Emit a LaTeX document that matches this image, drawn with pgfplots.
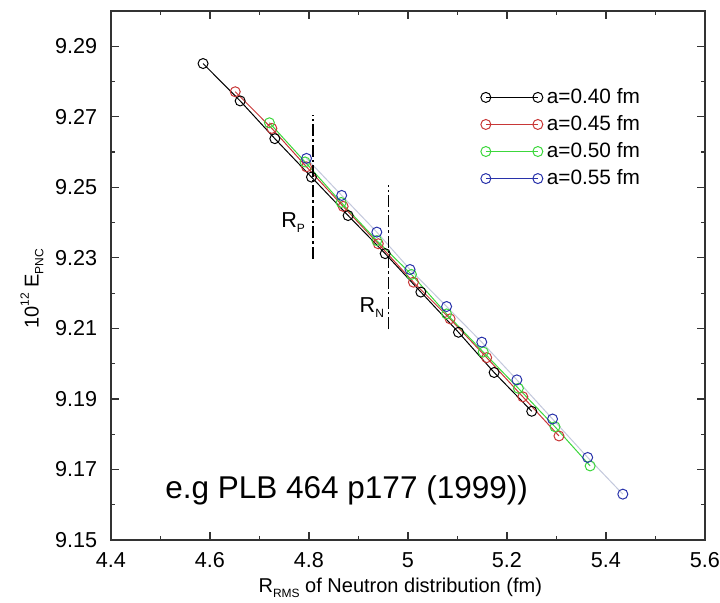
\documentclass[border=0pt]{standalone}
\usepackage{fontspec}
\setmainfont{Liberation Sans}
\usepackage{pgfplots}
\pgfplotsset{compat=1.18}
\definecolor{cred}{RGB}{200,55,55}
\definecolor{cgreen}{RGB}{60,215,60}
\definecolor{cblue}{RGB}{40,50,170}
\definecolor{cblueline}{RGB}{195,200,220}
\newcommand{\lf}{\fontsize{10.8}{13}\selectfont}
\newcommand{\sub}[1]{\raisebox{-0.45ex}{\fontsize{6}{6}\selectfont #1}}
\newcommand{\sups}[1]{\raisebox{0.9ex}{\fontsize{6}{6}\selectfont #1}}
\begin{document}
\begin{tikzpicture}
\path[use as bounding box] (-55.5pt,-31.5pt) rectangle (304.5pt,270pt);
\begin{axis}[
 scale only axis, width=297pt, height=264.5pt,
 xmin=4.4, xmax=5.6, ymin=9.15, ymax=9.30,
 xtick={4.4,4.6,4.8,5.0,5.2,5.4,5.6},
 minor xtick={4.5,4.7,4.9,5.1,5.3,5.5},
 ytick={9.15,9.17,9.19,9.21,9.23,9.25,9.27,9.29},
 minor ytick={9.16,9.18,9.20,9.22,9.24,9.26,9.28},
 yticklabel style={/pgf/number format/fixed, /pgf/number format/fixed zerofill, /pgf/number format/precision=2, xshift=-3.4pt},
 xticklabel style={/pgf/number format/fixed, /pgf/number format/precision=1, yshift=-2.9pt},
 /pgf/number format/assume math mode=true,
 tick label style={font=\lf},
 major tick length=4pt, minor tick length=2.2pt,
 tick style={line width=0.6pt, color=black!80},
 axis line style={line width=0.6pt, black!80},
 xlabel={R\sub{RMS} of Neutron distribution (fm)},
 ylabel={10\sups{12} E\sub{PNC}},
 label style={font=\lf},
 every axis x label/.style={at={(axis description cs:0.487,-0.091)}, anchor=center},
 every axis y label/.style={at={(axis description cs:-0.133,0.475)}, anchor=center, rotate=90},
 legend style={draw=none, fill=none, at={(axis description cs:0.622,0.862)}, anchor=north west, font=\fontsize{10.4}{13}\selectfont, inner sep=0pt, row sep=0.5pt},
 legend cell align=left,
 legend image code/.code={\draw[#1] plot coordinates {(0pt,0pt) (26pt,0pt)};},
 every axis plot/.append style={line width=0.5pt, mark size=2.5pt},
]
\addplot[black, mark=o] coordinates {
(4.586,9.2851) (4.661,9.2745) (4.731,9.2638) (4.805,9.2529) (4.879,9.2420)
(4.954,9.2312) (5.026,9.2203) (5.102,9.2089) (5.174,9.1975) (5.250,9.1865)};
\addlegendentry{a=0.40 fm}
\addplot[cred, mark=o] coordinates {
(4.651,9.2771) (4.725,9.2667) (4.795,9.2558) (4.869,9.2446) (4.940,9.2340)
(5.011,9.2231) (5.085,9.2127) (5.159,9.2017) (5.232,9.1906) (5.305,9.1795)};
\addlegendentry{a=0.45 fm}
\addplot[cgreen, mark=o] coordinates {
(4.720,9.2683) (4.792,9.2572) (4.865,9.2457) (4.937,9.2349) (5.007,9.2253)
(5.078,9.2141) (5.152,9.2033) (5.223,9.1930) (5.297,9.1821) (5.368,9.1710)};
\addlegendentry{a=0.50 fm}
\addplot[cblueline, mark=o, mark options={cblue}, forget plot] coordinates {
(4.795,9.2582) (4.866,9.2477) (4.937,9.2373) (5.004,9.2267) (5.078,9.2162)
(5.149,9.2061) (5.220,9.1954) (5.292,9.1843) (5.363,9.1734) (5.434,9.1630)};
\addlegendimage{cblue, mark=o}
\addlegendentry{a=0.55 fm}
\addplot[black, line width=0.6pt, dash pattern=on 6pt off 1.5pt on 1.2pt off 1.5pt, forget plot] coordinates {(4.808,9.2298) (4.808,9.2705)};
\addplot[black, line width=0.6pt, dash pattern=on 6pt off 1.5pt on 1.2pt off 1.5pt, forget plot] coordinates {(4.960,9.2097) (4.960,9.2506)};
\node[font=\lf] at (axis cs:4.768,9.240) {R\sub{P}};
\node[font=\lf] at (axis cs:4.927,9.2159) {R\sub{N}};
\node[font=\fontsize{15.75}{18}\selectfont] at (axis cs:4.876,9.164) {e.g PLB 464 p177 (1999))};
\end{axis}
\end{tikzpicture}
\end{document}
